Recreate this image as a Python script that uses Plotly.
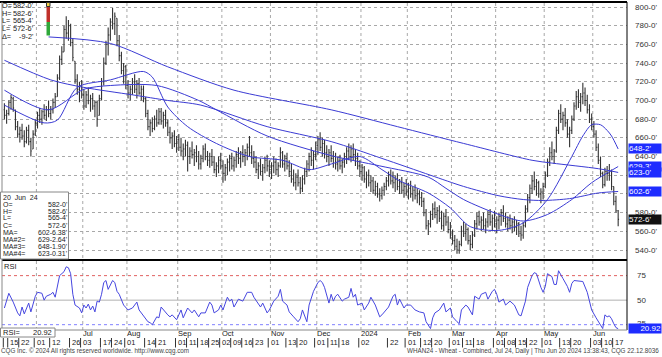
import plotly.graph_objects as go
import pandas as pd

# ---------------- data ----------------
first_day, last_day = "2023-05-11", "2024-06-20"
holidays = ["2023-05-29", "2023-06-19", "2023-07-04", "2023-09-04", "2023-11-23",
            "2023-12-25", "2024-01-01", "2024-01-15", "2024-02-19", "2024-03-29",
            "2024-05-27", "2024-06-19"]

opens = [
    690, 684, 686, 698, 702, 690, 672, 664, 668, 662,
    656, 668, 656, 648, 664, 676, 684, 680, 688, 684,
    690, 686, 690, 698, 704, 724, 744, 752, 776, 772,
    780, 762, 742, 722, 712, 716, 706, 694, 706, 700,
    702, 694, 698, 684, 702, 720, 740, 760, 770, 784,
    782, 788, 764, 748, 732, 736, 716, 708, 712, 720,
    712, 718, 708, 712, 702, 686, 672, 676, 670, 680,
    676, 688, 678, 684, 676, 666, 660, 662, 654, 658,
    650, 646, 648, 652, 640, 646, 642, 644, 640, 632,
    638, 648, 640, 636, 640, 634, 626, 630, 636, 630,
    622, 628, 634, 638, 630, 636, 642, 638, 644, 640,
    644, 650, 644, 638, 634, 626, 630, 624, 628, 636,
    630, 626, 630, 634, 626, 630, 644, 632, 638, 630,
    624, 616, 612, 618, 612, 606, 616, 624, 632, 640,
    636, 642, 652, 658, 650, 654, 644, 640, 644, 638,
    640, 632, 636, 630, 634, 640, 646, 640, 648, 642,
    638, 630, 624, 628, 616, 620, 612, 614, 604, 608,
    600, 598, 604, 608, 614, 620, 614, 612, 616, 608,
    612, 604, 608, 602, 606, 600, 604, 598, 600, 596,
    592, 580, 566, 568, 578, 584, 578, 582, 574, 566,
    576, 570, 562, 556, 550, 544, 540, 546, 560, 558,
    562, 550, 546, 556, 568, 576, 570, 572, 566, 570,
    578, 570, 574, 568, 572, 576, 580, 574, 568, 572,
    566, 570, 564, 568, 558, 556, 566, 584, 596, 606,
    614, 608, 612, 600, 602, 608, 620, 634, 644, 640,
    646, 668, 686, 680, 684, 676, 664, 668, 680, 694,
    704, 698, 704, 708, 700, 690, 680, 672, 664, 650,
    636, 622, 610, 624, 622, 624, 608, 592, 582]

highs = [
    697, 690, 700, 706, 704, 690, 678, 672, 675, 668,
    672, 674, 660, 668, 680, 688, 692, 690, 696, 694,
    700, 694, 702, 708, 728, 748, 758, 780, 790, 786,
    782, 766, 742, 728, 720, 722, 712, 710, 714, 706,
    708, 700, 700, 706, 724, 746, 764, 778, 788, 799,
    794, 788, 770, 752, 740, 738, 722, 716, 724, 728,
    722, 724, 716, 716, 704, 690, 680, 682, 684, 690,
    692, 692, 688, 690, 680, 672, 666, 668, 662, 664,
    660, 654, 658, 656, 650, 656, 648, 652, 646, 642,
    652, 654, 646, 644, 648, 640, 634, 640, 644, 636,
    632, 638, 642, 644, 640, 646, 650, 646, 652, 648,
    654, 662, 652, 646, 640, 634, 638, 632, 640, 642,
    636, 634, 640, 638, 634, 650, 646, 642, 644, 636,
    632, 626, 622, 626, 618, 620, 628, 636, 644, 650,
    646, 656, 662, 666, 660, 658, 652, 648, 652, 646,
    644, 640, 642, 638, 644, 650, 654, 652, 654, 648,
    644, 636, 632, 630, 624, 626, 620, 618, 614, 612,
    606, 608, 612, 618, 624, 626, 624, 620, 622, 616,
    618, 612, 616, 612, 614, 608, 610, 606, 604, 602,
    596, 584, 572, 582, 590, 592, 586, 588, 582, 580,
    584, 576, 570, 562, 556, 552, 550, 566, 570, 568,
    564, 556, 560, 572, 580, 582, 576, 580, 574, 582,
    584, 578, 582, 576, 580, 584, 588, 580, 576, 578,
    574, 576, 572, 570, 566, 570, 588, 600, 610, 620,
    624, 616, 614, 606, 612, 624, 638, 650, 656, 648,
    672, 690, 696, 688, 692, 680, 672, 684, 698, 710,
    712, 708, 719, 714, 706, 696, 686, 678, 668, 654,
    640, 624, 628, 630, 632, 626, 608, 598, 582.75]

lows = [
    680, 675, 684, 690, 688, 668, 660, 655, 658, 650,
    654, 652, 640, 648, 662, 670, 676, 674, 680, 678,
    682, 680, 686, 692, 704, 722, 738, 752, 766, 764,
    758, 742, 718, 706, 698, 702, 690, 692, 696, 688,
    690, 682, 672, 684, 700, 716, 738, 748, 764, 776,
    770, 758, 742, 728, 718, 712, 702, 700, 706, 708,
    702, 706, 700, 698, 682, 668, 662, 666, 668, 672,
    674, 674, 670, 672, 662, 654, 648, 650, 644, 646,
    640, 636, 640, 624, 632, 638, 630, 634, 626, 626,
    634, 636, 630, 628, 630, 622, 618, 622, 626, 612,
    614, 620, 624, 626, 624, 628, 632, 628, 634, 630,
    636, 640, 632, 628, 622, 616, 620, 614, 622, 624,
    618, 616, 622, 620, 618, 628, 628, 624, 626, 618,
    612, 608, 604, 608, 600, 602, 610, 618, 624, 630,
    626, 636, 642, 646, 640, 638, 634, 630, 634, 628,
    626, 624, 626, 622, 628, 632, 636, 634, 636, 630,
    626, 618, 614, 612, 606, 608, 602, 600, 598, 596,
    592, 594, 598, 604, 608, 610, 606, 602, 604, 600,
    600, 596, 598, 594, 596, 592, 594, 590, 588, 586,
    576, 562, 556, 564, 572, 574, 568, 570, 562, 560,
    566, 558, 552, 546, 540, 536, 536, 544, 554, 550,
    546, 540, 542, 554, 562, 566, 560, 562, 558, 564,
    566, 560, 564, 558, 562, 566, 570, 564, 560, 562,
    558, 560, 556, 554, 550, 552, 564, 580, 590, 600,
    604, 598, 596, 590, 594, 606, 618, 630, 636, 632,
    644, 664, 676, 668, 672, 660, 650, 664, 678, 690,
    692, 688, 696, 694, 686, 676, 668, 660, 646, 632,
    618, 606, 608, 614, 614, 604, 588, 580, 565.5]

closes = [
    684, 686, 698, 703, 692, 672, 664, 668, 662, 656,
    668, 656, 646, 664, 676, 684, 680, 688, 684, 690,
    686, 690, 698, 704, 724, 744, 752, 776, 772, 780,
    762, 746, 722, 712, 716, 706, 694, 706, 700, 702,
    694, 698, 680, 702, 720, 740, 760, 770, 784, 782,
    790, 764, 748, 732, 736, 716, 708, 712, 720, 712,
    718, 708, 712, 702, 686, 672, 676, 670, 680, 676,
    688, 678, 684, 676, 666, 660, 662, 654, 658, 650,
    646, 648, 652, 640, 646, 642, 644, 640, 632, 638,
    648, 640, 636, 640, 634, 626, 630, 636, 630, 622,
    628, 634, 638, 630, 636, 642, 638, 644, 640, 644,
    650, 644, 638, 634, 626, 630, 624, 628, 636, 630,
    626, 630, 634, 626, 630, 644, 632, 638, 630, 624,
    616, 612, 618, 612, 606, 616, 624, 632, 640, 636,
    642, 652, 658, 650, 654, 644, 640, 644, 638, 640,
    632, 636, 630, 634, 640, 646, 640, 648, 642, 638,
    630, 624, 628, 616, 620, 612, 614, 604, 608, 600,
    598, 604, 608, 614, 620, 614, 612, 616, 608, 612,
    604, 608, 602, 606, 600, 604, 598, 600, 596, 592,
    580, 566, 568, 578, 584, 578, 582, 574, 566, 576,
    570, 562, 556, 550, 544, 540, 546, 560, 558, 562,
    550, 546, 556, 568, 576, 570, 572, 566, 570, 578,
    570, 574, 568, 572, 576, 580, 574, 568, 572, 566,
    570, 564, 568, 558, 556, 566, 584, 596, 606, 614,
    608, 612, 600, 602, 608, 620, 634, 644, 640, 646,
    668, 686, 680, 684, 676, 664, 668, 680, 694, 704,
    698, 704, 708, 700, 690, 680, 672, 664, 650, 636,
    622, 610, 624, 622, 624, 608, 592, 582, 572.75]

# moving averages (bar number, value)
ma1_bar = [0, 21, 36, 58, 74, 89, 119, 148, 171, 193, 208, 224, 235, 244, 256, 269, 278]
ma1_val = [743, 722, 714, 706, 700, 695, 672, 656, 638, 620, 608, 598, 594, 593, 595, 601, 602.6]
ma2_bar = [0, 20, 36, 48, 69, 88, 96, 119, 148, 170, 192, 200, 208, 224, 235, 246, 257, 266, 278]
ma2_val = [711, 690, 712, 716, 716, 700, 690, 662, 641, 630, 618, 606, 594, 578, 571, 578, 594, 612, 629.3]
ma3_bar = [0, 18, 24, 33, 48, 63, 67, 74, 83, 96, 111, 126, 138, 148, 161, 171, 179, 192,
           202, 211, 224, 235, 246, 257, 262, 266, 270, 273, 275, 278]
ma3_val = [695, 676, 679, 714, 722, 731, 725, 693, 672, 654, 640, 636, 626, 632, 640, 626, 614, 601,
           585, 565, 561, 569, 594, 640, 662, 674, 674, 668, 662, 648.1]
ma4_bar = [20, 48, 74, 104, 148, 178, 208, 239, 248, 269, 278]
ma4_val = [768, 761, 736, 711, 690, 672, 654, 636, 633, 627, 623.0]

rsi_bar = [0, 2, 4, 6, 7, 8, 9, 11, 12, 14,
           15, 17, 18, 19, 21, 22, 23, 24, 25, 27,
           28, 29, 30, 31, 32, 34, 35, 36, 37, 38,
           39, 40, 41, 42, 43, 44, 45, 46, 47, 49,
           50, 51, 52, 54, 56, 58, 60, 61, 62, 65,
           66, 67, 69, 70, 71, 72, 74, 75, 76, 78,
           80, 81, 82, 83, 85, 86, 88, 89, 91, 93,
           94, 95, 97, 98, 99, 101, 102, 103, 104, 106,
           108, 110, 112, 113, 116, 117, 119, 120, 122, 123,
           124, 125, 126, 128, 129, 131, 133, 134, 135, 137,
           138, 140, 142, 143, 144, 145, 147, 148, 149, 150,
           151, 153, 154, 156, 157, 158, 159, 160, 162, 163,
           165, 166, 168, 170, 171, 174, 176, 177, 178, 179,
           181, 182, 184, 186, 188, 190, 191, 193, 194, 195,
           197, 199, 200, 202, 203, 205, 206, 207, 209, 210,
           212, 213, 215, 216, 218, 219, 221, 222, 223, 224,
           226, 227, 229, 231, 233, 234, 236, 237, 239, 240,
           241, 243, 244, 245, 246, 248, 249, 250, 251, 253,
           255, 256, 257, 258, 261, 262, 264, 266, 268, 269,
           271, 272, 273, 274, 275, 276, 277, 278]
rsi_val = [42, 57, 48, 37, 34, 43, 36, 47, 38, 54,
           58, 57, 50, 54, 56, 58, 53, 64, 75, 79,
           84, 83, 77, 56, 45, 42, 37, 45, 42, 46,
           40, 44, 38, 49, 48, 56, 68, 70, 61, 70,
           68, 59, 56, 45, 40, 42, 48, 40, 37, 28,
           27, 25, 33, 32, 43, 40, 35, 33, 35, 30,
           40, 32, 37, 42, 37, 40, 33, 37, 37, 48,
           45, 37, 40, 45, 40, 53, 49, 51, 43, 51,
           49, 58, 58, 53, 43, 47, 37, 40, 49, 51,
           54, 61, 49, 45, 38, 33, 28, 31, 40, 28,
           45, 59, 68, 70, 68, 63, 47, 56, 49, 54,
           56, 49, 51, 53, 62, 53, 56, 45, 47, 40,
           47, 53, 45, 33, 35, 43, 54, 56, 45, 51,
           42, 45, 45, 40, 38, 37, 28, 21, 32, 37,
           40, 47, 38, 42, 33, 28, 26, 40, 45, 43,
           35, 54, 51, 56, 58, 51, 59, 61, 56, 48,
           51, 45, 49, 45, 35, 34, 49, 63, 75, 78,
           77, 63, 58, 64, 77, 74, 66, 66, 80, 72,
           64, 58, 67, 70, 69, 69, 58, 40, 32, 28,
           21, 35, 33, 34, 31, 26, 22, 20.92]

# price labels shown on the right axis (600 and 620 are hidden under the value tags)
price_ticks = [540, 560, 580, 640, 660, 680, 700, 720, 740, 760, 780, 800]
price_grid = [540, 560, 580, 600, 620, 640, 660, 680, 700, 720, 740, 760, 780, 800]
rsi_ticks = [25, 50, 75]

tick_dates = ["2023-05-15", "2023-05-22", "2023-06-01", "2023-06-12", "2023-06-26", "2023-07-03",
              "2023-07-17", "2023-07-24", "2023-08-01", "2023-08-14", "2023-08-21", "2023-09-01",
              "2023-09-11", "2023-09-18", "2023-09-25", "2023-10-02", "2023-10-09", "2023-10-16",
              "2023-10-23", "2023-11-01", "2023-11-13", "2023-11-20", "2023-12-01", "2023-12-11",
              "2023-12-18", "2024-01-02", "2024-01-22", "2024-02-01", "2024-02-12", "2024-02-20",
              "2024-03-01", "2024-03-11", "2024-03-18", "2024-04-01", "2024-04-08", "2024-04-15",
              "2024-04-22", "2024-05-01", "2024-05-13", "2024-05-20", "2024-06-03", "2024-06-10",
              "2024-06-17"]
month_dates = ["2023-07-03", "2023-08-01", "2023-09-01", "2023-10-02", "2023-11-01", "2023-12-01",
               "2024-01-02", "2024-02-01", "2024-03-01", "2024-04-01", "2024-05-01", "2024-06-03"]
month_text = ["Jul", "Aug", "Sep", "Oct", "Nov", "Dec", "2024", "Feb", "Mar", "Apr", "May", "Jun"]
grid_dates = ["2023-06-01"] + month_dates

legend_labels = ["O=", "H=", "L=", "L=", "Δ="]
legend_values = ["582-0'", "582-6'", "565-4'", "572-6'", "-9-2'"]
info_labels = ["20  Jun  24", "O=", "H=", "L=", "C=", "MA=", "MA#2=", "MA#3=", "MA#4="]
info_values = ["", "582-0'", "582-6'", "565-4'", "572-6'", "602-6.38'", "629-2.64'", "648-1.90'", "623-0.31'"]
value_tags = [(648.1, "648-2'"), (629.3, "629-3'"), (623.0, "623-0'"), (602.6, "602-6'")]
last_tag = (572.75, "572-6'")
rsi_last = 20.92

# ---------------- geometry ----------------
W, H = 662, 357
ML, MR, MT, MB = 2, 35, 2, 27
PW, PH = W - ML - MR, H - MT - MB
BAR0, BARW = 4.4, 2.2078          # pixel of first bar, pixels per bar
PK = (250 - 7) / 260.0            # pixels per cent (price panel)
RK = (325.0 - 275.7) / 50.0       # pixels per RSI point


def px(x):
    return (x - ML) / PW


def py(y):
    return (H - MB - y) / PH


xlo = (ML - BAR0) / BARW
xhi = (ML + PW - BAR0) / BARW
ylo, yhi = 540 - (260 - 250) / PK, 800 + (7 - MT) / PK
rlo, rhi = 50 - (H - MB - 300.0) / RK, 75 + (275.7 - 261) / RK

days = [d.strftime("%Y-%m-%d") for d in pd.bdate_range(first_day, last_day)
        if d.strftime("%Y-%m-%d") not in holidays]
pos = {d: i for i, d in enumerate(days)}
xs = list(range(len(closes)))

FONT = "Liberation Sans, Arial, sans-serif"
BAR = "#333333"
MAC = "#3b3bd4"
TAGBLUE = "#1e2cff"

fig = go.Figure()
fig.add_trace(go.Ohlc(x=xs, open=opens, high=highs, low=lows, close=closes,
                      increasing=dict(line=dict(color=BAR, width=1.1)),
                      decreasing=dict(line=dict(color=BAR, width=1.1)),
                      tickwidth=0.4, xaxis="x", yaxis="y", hoverinfo="skip", showlegend=False))
for b, v in [(ma1_bar, ma1_val), (ma2_bar, ma2_val), (ma3_bar, ma3_val), (ma4_bar, ma4_val)]:
    fig.add_trace(go.Scatter(x=b, y=v, mode="lines", line=dict(color=MAC, width=1, shape="spline", smoothing=0.8),
                             xaxis="x", yaxis="y", hoverinfo="skip", showlegend=False))
fig.add_trace(go.Scatter(x=rsi_bar, y=rsi_val, mode="lines", line=dict(color="#4646e0", width=1),
                         xaxis="x2", yaxis="y2", hoverinfo="skip", showlegend=False))

shapes = []
for d in grid_dates:
    xi = pos[d] + 0.5
    shapes.append(dict(type="line", xref="x", yref="paper", x0=xi, x1=xi, y0=0, y1=1,
                       line=dict(color="#a8a8a8", width=1, dash="dot"), layer="below"))
shapes.append(dict(type="line", xref="paper", yref="y2", x0=0, x1=1, y0=75, y1=75,
                   line=dict(color="#e06060", width=1, dash="dot"), layer="below"))
shapes.append(dict(type="line", xref="paper", yref="y2", x0=0, x1=1, y0=50, y1=50,
                   line=dict(color="#b0b0b0", width=1), layer="below"))
shapes.append(dict(type="line", xref="paper", yref="y2", x0=0, x1=1, y0=25, y1=25,
                   line=dict(color="#8080ff", width=1, dash="dot"), layer="below"))
shapes.append(dict(type="line", xref="paper", yref="paper", x0=px(0), x1=1, y0=1, y1=1,
                   line=dict(color="black", width=2)))
shapes.append(dict(type="line", xref="paper", yref="paper", x0=0, x1=1, y0=py(260), y1=py(260),
                   line=dict(color="black", width=2)))
shapes.append(dict(type="line", xref="paper", yref="paper", x0=1, x1=1, y0=0, y1=1,
                   line=dict(color="black", width=1)))
shapes.append(dict(type="line", xref="paper", yref="paper", x0=0, x1=0, y0=0, y1=1,
                   line=dict(color="#888888", width=1)))
shapes.append(dict(type="line", xref="paper", yref="paper", x0=0, x1=1, y0=0, y1=0,
                   line=dict(color="#888888", width=1)))
shapes.append(dict(type="rect", xref="paper", yref="paper", x0=px(0.5), x1=px(68.5), y0=py(259), y1=py(192),
                   fillcolor="white", line=dict(color="#888888", width=1)))
shapes.append(dict(type="rect", xref="paper", yref="paper", x0=px(0.5), x1=px(55), y0=py(337), y1=py(328),
                   fillcolor="white", line=dict(color="#888888", width=1)))
shapes.append(dict(type="rect", xref="paper", yref="paper", x0=px(46.5), x1=px(50), y0=py(22), y1=py(6.5),
                   fillcolor="#c0302a", line=dict(width=0)))
shapes.append(dict(type="rect", xref="paper", yref="paper", x0=px(46.5), x1=px(50), y0=py(35.5), y1=py(22),
                   fillcolor="#2fa83a", line=dict(width=0)))
shapes.append(dict(type="rect", xref="paper", yref="paper", x0=px(46.5), x1=px(50), y0=py(6.5), y1=py(2.5),
                   fillcolor="#f2d24a", line=dict(color="#333", width=1)))
for d in ["2023-05-11"] + tick_dates:
    xi = pos[d] - 0.5
    shapes.append(dict(type="line", xref="x", yref="paper", x0=xi, x1=xi, y0=py(338), y1=py(347.5),
                       line=dict(color="#333333", width=1)))

ann = []


def text(x, y, t, size=7.5, anchor="left", color="#222", **kw):
    ann.append(dict(x=px(x), y=py(y), xref="paper", yref="paper", text=t, showarrow=False,
                    xanchor=anchor, yanchor="middle", borderpad=0,
                    font=dict(family=FONT, size=size, color=color), **kw))


for k, (lab, val) in enumerate(zip(legend_labels, legend_values)):
    yy = 5.5 + k * 7.7
    text(1, yy, lab, 7.3)
    text(35, yy, val, 7.3, anchor="right")

for k, (lab, val) in enumerate(zip(info_labels, info_values)):
    yy = 197 + k * 7.0
    text(2, yy, lab, 7.0)
    if val:
        text(68, yy, val, 7.0, anchor="right")

text(3, 266.5, "RSI", 7.5)
text(2, 332.5, "RSI=", 7.5)
text(53, 332.5, f"{rsi_last:.2f}", 7.5, anchor="right")

for v in price_ticks:
    ann.append(dict(x=px(633), y=v, xref="paper", yref="y", text=f"{v}-0'", showarrow=False,
                    xanchor="left", yanchor="middle", font=dict(family=FONT, size=8, color="#333")))
for v in rsi_ticks:
    ann.append(dict(x=px(635), y=v + (1.5 if v == 25 else 0), xref="paper", yref="y2", text=str(v),
                    showarrow=False, xanchor="left", yanchor="middle",
                    font=dict(family=FONT, size=8, color="#333")))

for v, t in value_tags:
    ann.append(dict(x=px(628), y=v, xref="paper", yref="y", text=t, showarrow=False, xanchor="left",
                    yanchor="middle", bgcolor=TAGBLUE, borderpad=0, width=32, height=9, align="left",
                    font=dict(family=FONT, size=8, color="white")))
ann.append(dict(x=px(628), y=last_tag[0], xref="paper", yref="y", text=last_tag[1], showarrow=False,
                xanchor="left", yanchor="middle", bgcolor="#111111", borderpad=0, width=32, height=9,
                align="left", font=dict(family=FONT, size=8, color="white")))
ann.append(dict(x=px(628), y=rsi_last, xref="paper", yref="y2", text=f"{rsi_last:.2f}", showarrow=False,
                xanchor="left", yanchor="middle", bgcolor=TAGBLUE, borderpad=0, width=32, height=9,
                align="right", font=dict(family=FONT, size=8, color="white")))

for d, t in zip(month_dates, month_text):
    ann.append(dict(x=pos[d] - 0.3, y=py(333.5), xref="x", yref="paper", text=t, showarrow=False,
                    xanchor="left", yanchor="middle", font=dict(family=FONT, size=7.5, color="#222")))
for d in tick_dates:
    ann.append(dict(x=pos[d] - 0.3, y=py(342.5), xref="x", yref="paper", text=d[-2:], showarrow=False,
                    xanchor="left", yanchor="middle", font=dict(family=FONT, size=7.5, color="#222")))

text(0, 351, "CQG Inc. © 2024 All rights reserved worldwide. http://www.cqg.com", 6.3, color="#444")
text(660, 351, "WHAN24 - Wheat - Combined, Jul 24, Daily | Thu Jun 20 2024 13:38:43, CQG 22.12.8036",
     6.3, anchor="right", color="#444")

fig.update_layout(
    width=W, height=H, margin=dict(l=ML, r=MR, t=MT, b=MB),
    paper_bgcolor="white", plot_bgcolor="white", showlegend=False,
    font=dict(family=FONT, size=8, color="#222"),
    xaxis=dict(domain=[0, 1], range=[xlo, xhi], anchor="y", showticklabels=False, showgrid=False,
               zeroline=False, rangeslider=dict(visible=False), ticks=""),
    xaxis2=dict(domain=[0, 1], range=[xlo, xhi], anchor="y2", matches="x", showticklabels=False,
                showgrid=False, zeroline=False, ticks=""),
    yaxis=dict(domain=[py(260), 1], range=[ylo, yhi], side="right", tickvals=price_grid,
               showticklabels=False, showgrid=True, gridcolor="#a8a8a8",
               griddash="dot", gridwidth=1, zeroline=False, ticks=""),
    yaxis2=dict(domain=[0, py(261)], range=[rlo, rhi], side="right", showticklabels=False,
                showgrid=False, zeroline=False, ticks=""),
    shapes=shapes, annotations=ann,
)

fig.write_html("out.html", config={"displayModeBar": False, "staticPlot": True},
               post_script="document.body.style.margin='0px';document.body.style.overflow='hidden';")
